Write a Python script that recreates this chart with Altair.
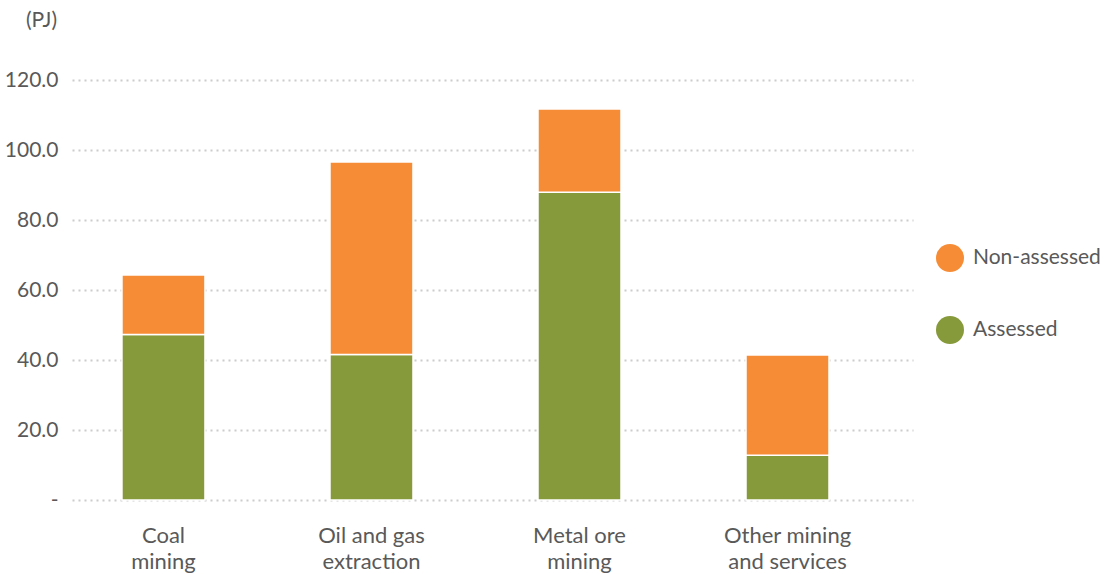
import altair as alt
import pandas as pd

categories = ["Coal|mining", "Oil and gas|extraction", "Metal ore|mining", "Other mining|and services"]
assessed = [47.3, 41.6, 87.9, 12.8]
non_assessed = [17.0, 55.0, 23.8, 28.6]
series = ["Non-assessed", "Assessed"]
colors = ["#F68D36", "#879A3B"]

rows = []
for c, a, n in zip(categories, assessed, non_assessed):
    rows.append({"cat": c, "series": "Assessed", "value": a, "ord": 0})
    rows.append({"cat": c, "series": "Non-assessed", "value": n, "ord": 1})
df = pd.DataFrame(rows)

FONT = "Lato"
GREY = "#595959"

chart = alt.Chart(df).mark_bar(stroke="white", strokeWidth=1.5).encode(
    x=alt.X("cat:N", sort=categories,
            scale=alt.Scale(paddingInner=0.601, paddingOuter=0.322, align=0.373),
            axis=alt.Axis(title=None, labelAngle=0, ticks=False, domain=False,
                          labelExpr="split(datum.value, '|')",
                          labelFontSize=22, labelColor=GREY, labelFont=FONT,
                          labelLineHeight=26, labelPadding=25, labelBaseline="top")),
    y=alt.Y("value:Q", stack="zero",
            scale=alt.Scale(domain=[0, 120], nice=False),
            axis=alt.Axis(values=[0, 20, 40, 60, 80, 100, 120],
                          labelExpr="datum.value == 0 ? '-' : format(datum.value, '.1f')",
                          labelFontSize=21, labelColor=GREY, labelFont=FONT,
                          labelPadding=14, ticks=False, domain=False,
                          grid=True, gridColor="#cccccc", gridDash=[2, 4], gridWidth=2,
                          title="(PJ)", titleAngle=0, titleX=-31, titleY=-60,
                          titleAlign="center", titleBaseline="middle",
                          titleFontSize=21, titleFontWeight="normal",
                          titleColor=GREY, titleFont=FONT)),
    color=alt.Color("series:N", scale=alt.Scale(domain=series, range=colors),
                    legend=alt.Legend(title=None, orient="none", legendX=864, legendY=164,
                                      symbolType="circle", symbolSize=784,
                                      symbolStrokeWidth=0, symbolOpacity=1,
                                      rowPadding=44, labelOffset=9,
                                      labelFontSize=21, labelColor=GREY, labelFont=FONT)),
    order=alt.Order("ord:Q", sort="ascending"),
).properties(
    width=841, height=420,
    autosize=alt.AutoSizeParams(type="none"),
    padding={"left": 72, "top": 80, "right": 195, "bottom": 74},
).configure_view(stroke=None)

chart.save("out.html", embed_options={"renderer": "svg", "actions": False})
